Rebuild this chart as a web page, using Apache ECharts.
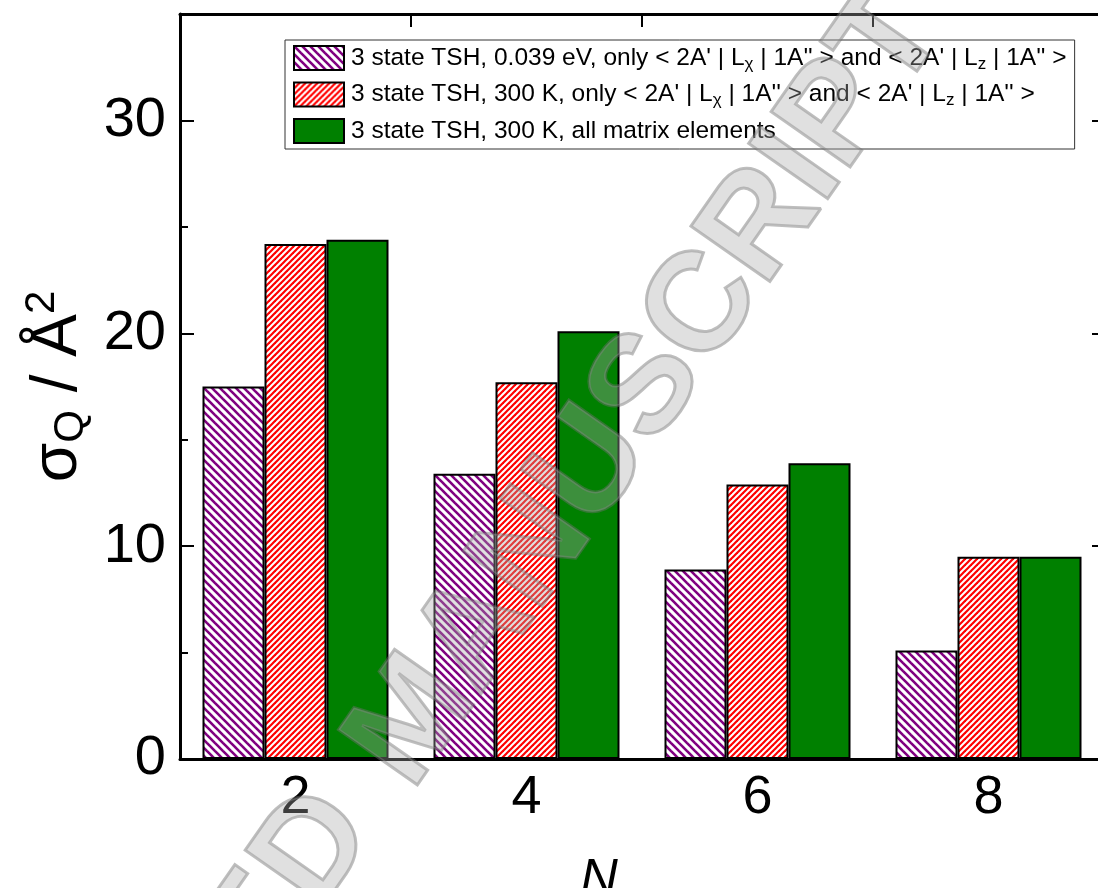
<!DOCTYPE html>
<html>
<head>
<meta charset="utf-8">
<script src="https://cdn.jsdelivr.net/npm/echarts@6/dist/echarts.min.js"></script>
<style>
html,body{margin:0;padding:0;background:#fff;}
#main{width:1098px;height:888px;}
</style>
</head>
<body>
<div id="main"></div>
<script>
// ---- data ----
var categories = ['2', '4', '6', '8'];
var seriesNames = [
  '3 state TSH, 0.039 eV, only Lx Lz',
  '3 state TSH, 300 K, only Lx Lz',
  '3 state TSH, 300 K, all matrix elements'
];
var legendLabels = [
  "3 state TSH, 0.039 eV, only < 2A' | L{sub|χ} | 1A'' > and < 2A' | L{sub|z} | 1A'' >",
  "3 state TSH, 300 K, only < 2A' | L{sub|χ} | 1A'' > and < 2A' | L{sub|z} | 1A'' >",
  "3 state TSH, 300 K, all matrix elements"
];
var purpleVals = [17.5, 13.4, 8.9, 5.1];
var redVals = [24.2, 17.7, 12.9, 9.5];
var greenVals = [24.4, 20.1, 13.9, 9.5];

function stripes(color, period, width, dir) {
  var c = document.createElement('canvas');
  c.width = period; c.height = period;
  var ctx = c.getContext('2d');
  ctx.fillStyle = '#ffffff';
  ctx.fillRect(0, 0, period, period);
  ctx.strokeStyle = color;
  ctx.lineWidth = width;
  ctx.lineCap = 'square';
  for (var k = -1; k <= 1; k++) {
    ctx.beginPath();
    if (dir === 'back') {
      ctx.moveTo(k * period, 0);
      ctx.lineTo(k * period + period, period);
    } else {
      ctx.moveTo(k * period, period);
      ctx.lineTo(k * period + period, 0);
    }
    ctx.stroke();
  }
  return { image: c, repeat: 'repeat' };
}

var purplePattern = stripes('#800080', 8, 2.6, 'back');
var redPattern = stripes('#ff0000', 6, 2.2, 'fwd');

var FONT = "'Liberation Sans', Arial, sans-serif";
var chart = echarts.init(document.getElementById('main'), null, { renderer: 'canvas' });

var wmStyle = {
  align: 'center', verticalAlign: 'middle',
  font: "bold 140px 'Liberation Sans', Arial, sans-serif",
  fill: 'rgba(170,170,170,0.36)',
  stroke: 'rgba(110,110,110,0.45)', lineWidth: 3
};

var option = {
  backgroundColor: '#ffffff',
  animation: false,
  grid: { left: 180, top: 14, width: 924, height: 745, containLabel: false, outerBoundsMode: 'none' },
  legend: {
    orient: 'vertical',
    left: 285,
    top: 40,
    padding: [5, 8, 5, 8],
    itemWidth: 50,
    itemHeight: 24,
    itemGap: 9,
    borderColor: '#333',
    borderWidth: 1,
    icon: 'rect',
    data: seriesNames,
    formatter: function (name) { return legendLabels[seriesNames.indexOf(name)]; },
    textStyle: {
      fontFamily: FONT, fontSize: 24.5, color: '#000', padding: [0, 0, 0, 2],
      rich: {
        sub: { fontFamily: FONT, fontSize: 17, color: '#000', padding: [12, 0, 0, 0] }
      }
    }
  },
  xAxis: [
    {
      type: 'category',
      data: categories,
      position: 'bottom',
      boundaryGap: true,
      axisLine: { lineStyle: { color: '#000', width: 3 } },
      axisTick: { show: true, inside: true, alignWithLabel: true, length: 13, lineStyle: { color: '#000', width: 2 } },
      axisLabel: { fontFamily: FONT, fontSize: 54, color: '#000', margin: 12 },
      splitLine: { show: false },
      name: 'N',
      nameLocation: 'middle',
      nameGap: 96,
      nameTextStyle: { fontFamily: FONT, fontSize: 52, fontStyle: 'italic', color: '#000', padding: [0, 86, 0, 0] }
    },
    {
      type: 'value',
      position: 'top',
      min: 1, max: 9, interval: 2,
      axisLine: { show: true, onZero: false, lineStyle: { color: '#000', width: 3 } },
      axisTick: { show: true, inside: true, length: 13, lineStyle: { color: '#000', width: 2 } },
      axisLabel: { show: false },
      splitLine: { show: false }
    }
  ],
  yAxis: [
    {
      type: 'value',
      position: 'left',
      min: 0, max: 35, interval: 10,
      axisLine: { show: true, onZero: false, lineStyle: { color: '#000', width: 3 } },
      axisTick: { show: true, inside: true, length: 14, lineStyle: { color: '#000', width: 2 } },
      minorTick: { show: true, splitNumber: 2, length: 8, lineStyle: { color: '#000', width: 2 } },
      axisLabel: { fontFamily: FONT, fontSize: 56, color: '#000', margin: 14, showMaxLabel: false },
      splitLine: { show: false },
      name: 'σ{sub|Q} / Å{sup|2}',
      nameLocation: 'middle',
      nameGap: 80,
      nameRotate: 90,
      nameTextStyle: {
        fontFamily: FONT, fontSize: 64, color: '#000',
        rich: {
          sub: { fontFamily: FONT, fontSize: 42, color: '#000', padding: [26, 0, 0, 0] },
          sup: { fontFamily: FONT, fontSize: 42, color: '#000', padding: [0, 0, 32, 0] }
        }
      }
    },
    {
      type: 'value',
      position: 'right',
      min: 0, max: 35, interval: 10,
      axisLine: { show: true, onZero: false, lineStyle: { color: '#000', width: 3 } },
      axisTick: { show: true, inside: true, length: 12, lineStyle: { color: '#000', width: 2 } },
      axisLabel: { show: false },
      splitLine: { show: false }
    }
  ],
  series: [
    {
      name: seriesNames[0], type: 'bar', data: purpleVals,
      barWidth: 62, barGap: '0%',
      itemStyle: { color: purplePattern, borderColor: '#000', borderWidth: 2 }
    },
    {
      name: seriesNames[1], type: 'bar', data: redVals,
      barWidth: 62, barGap: '0%',
      itemStyle: { color: redPattern, borderColor: '#000', borderWidth: 2 }
    },
    {
      name: seriesNames[2], type: 'bar', data: greenVals,
      barWidth: 62, barGap: '0%',
      itemStyle: { color: '#008000', borderColor: '#000', borderWidth: 2 }
    }
  ],
  graphic: [
    {
      type: 'text', z: 100, silent: true,
      x: 648, y: 388, rotation: 55 * Math.PI / 180,
      style: Object.assign({ text: 'MANUSCRIPT' }, wmStyle)
    },
    {
      type: 'text', z: 100, silent: true,
      x: 345, y: 808, rotation: 55 * Math.PI / 180,
      style: Object.assign({}, wmStyle, { text: 'ACCEPTED', align: 'right' })
    }
  ]
};
chart.setOption(option);
</script>
</body>
</html>
